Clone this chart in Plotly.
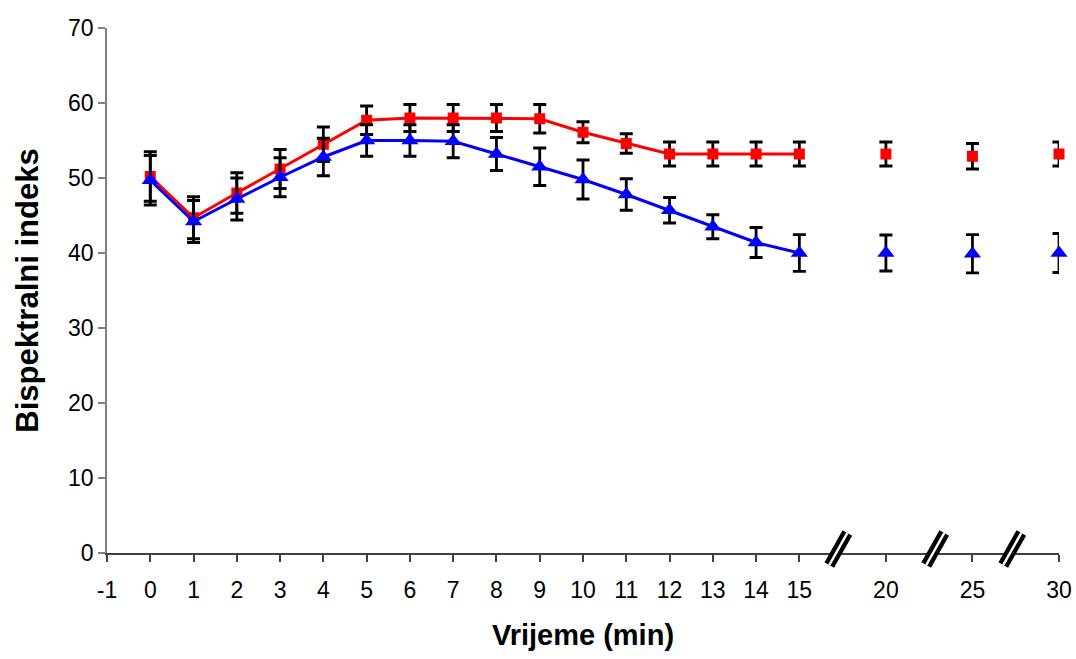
import plotly.graph_objects as go

# ---- data -------------------------------------------------------------
times = [0, 1, 2, 3, 4, 5, 6, 7, 8, 9, 10, 11, 12, 13, 14, 15, 20, 25, 30]
red_vals = [50.2, 44.7, 48.0, 51.2, 54.5, 57.7, 58.0, 58.0, 58.0, 57.9,
            56.1, 54.6, 53.2, 53.2, 53.2, 53.2, 53.2, 52.9, 53.2]
red_err = [3.3, 2.8, 2.7, 2.6, 2.3, 1.9, 1.8, 1.8, 1.8, 1.9,
           1.4, 1.3, 1.6, 1.6, 1.6, 1.6, 1.6, 1.7, 1.6]
blue_vals = [49.7, 44.2, 47.2, 50.1, 52.8, 55.0, 55.0, 54.9, 53.2, 51.5,
             49.8, 47.8, 45.7, 43.5, 41.4, 40.0, 40.0, 39.9, 40.0]
blue_err = [3.3, 2.8, 2.8, 2.6, 2.5, 2.1, 2.1, 2.2, 2.2, 2.5,
            2.6, 2.1, 1.7, 1.6, 2.0, 2.45, 2.4, 2.55, 2.6]
tick_times = [-1, 0, 1, 2, 3, 4, 5, 6, 7, 8, 9, 10, 11, 12, 13, 14, 15, 20, 25, 30]
tick_labels = [str(t) for t in tick_times]
break_times = [17.25, 22.85, 27.3]   # positions of the axis-break marks

# broken time axis: linear up to 15, compressed by 2.5 after
def pos(t):
    return t + 1 if t <= 15 else 16 + (t - 15) / 2.5

CONNECT_LIMIT = 15  # lines only drawn up to 15 min

RED = "#FF0000"
BLUE = "#0000FF"
FONT = "Liberation Sans, Arial, sans-serif"

fig = go.Figure()

def add_series(vals, errs, color, symbol, size, lw):
    a = [i for i, t in enumerate(times) if t <= CONNECT_LIMIT]
    b = [i for i, t in enumerate(times) if t > CONNECT_LIMIT]
    for idx, mode in ((a, "lines+markers"), (b, "markers")):
        fig.add_trace(go.Scatter(
            x=[pos(times[i]) for i in idx],
            y=[vals[i] for i in idx],
            mode=mode,
            line=dict(color=color, width=lw),
            marker=dict(color=color, symbol=symbol, size=size),
            error_y=dict(type="data", array=[errs[i] for i in idx],
                         color="black", thickness=2.8, width=6.5),
            showlegend=False, cliponaxis=False,
        ))

add_series(red_vals, red_err, RED, "square", 11, 3)
add_series(blue_vals, blue_err, BLUE, "triangle-up", 15, 3)

W, H = 1076, 659
L, R, T, B = 107, 17, 28, 106
plot_h = H - T - B
xmin, xmax = pos(-1), pos(30)
px_per_unit = (W - L - R) / (xmax - xmin)

# ---- axis-break marks (//) -------------------------------------------
dx = 9 / px_per_unit
dy_top = 20 / plot_h
dy_bot = 12 / plot_h
shapes = []
for bt in break_times:
    c = pos(bt)
    shapes.append(dict(type="line", xref="x", yref="paper",
                       x0=c - dx, y0=-dy_bot, x1=c + dx, y1=dy_top,
                       line=dict(color="black", width=11), layer="above"))
    shapes.append(dict(type="line", xref="x", yref="paper",
                       x0=c - dx, y0=-dy_bot, x1=c + dx, y1=dy_top,
                       line=dict(color="white", width=2.5), layer="above"))

fig.update_layout(
    width=W, height=H,
    margin=dict(l=L, r=R, t=T, b=B, autoexpand=False),
    paper_bgcolor="white", plot_bgcolor="white",
    font=dict(family=FONT, size=23, color="black"),
    shapes=shapes,
    xaxis=dict(
        range=[xmin, xmax],
        tickmode="array",
        tickvals=[pos(t) for t in tick_times],
        ticktext=tick_labels,
        tickfont=dict(size=23),
        ticks="outside", ticklen=7, tickwidth=1.5, tickcolor="#404040",
        showline=True, linecolor="#404040", linewidth=1.5,
        showgrid=False, zeroline=False, automargin=False,
        ticklabelstandoff=9,
        title=dict(text="<b>Vrijeme (min)</b>", font=dict(size=29), standoff=22),
    ),
    yaxis=dict(
        range=[0, 70],
        tickvals=[0, 10, 20, 30, 40, 50, 60, 70],
        tickfont=dict(size=23),
        ticks="outside", ticklen=7, tickwidth=1.5, tickcolor="#808080",
        showline=True, linecolor="#808080", linewidth=1.5,
        showgrid=False, zeroline=False, automargin=False,
        title=dict(text="<b>Bispektralni indeks</b>", font=dict(size=31), standoff=20),
    ),
)

# remove the browser's default 8px body margin so the figure fills the window
fig.write_html("out.html",
               config={"displayModeBar": False},
               post_script="document.body.style.margin='0';"
                           "document.body.style.overflow='hidden';")
